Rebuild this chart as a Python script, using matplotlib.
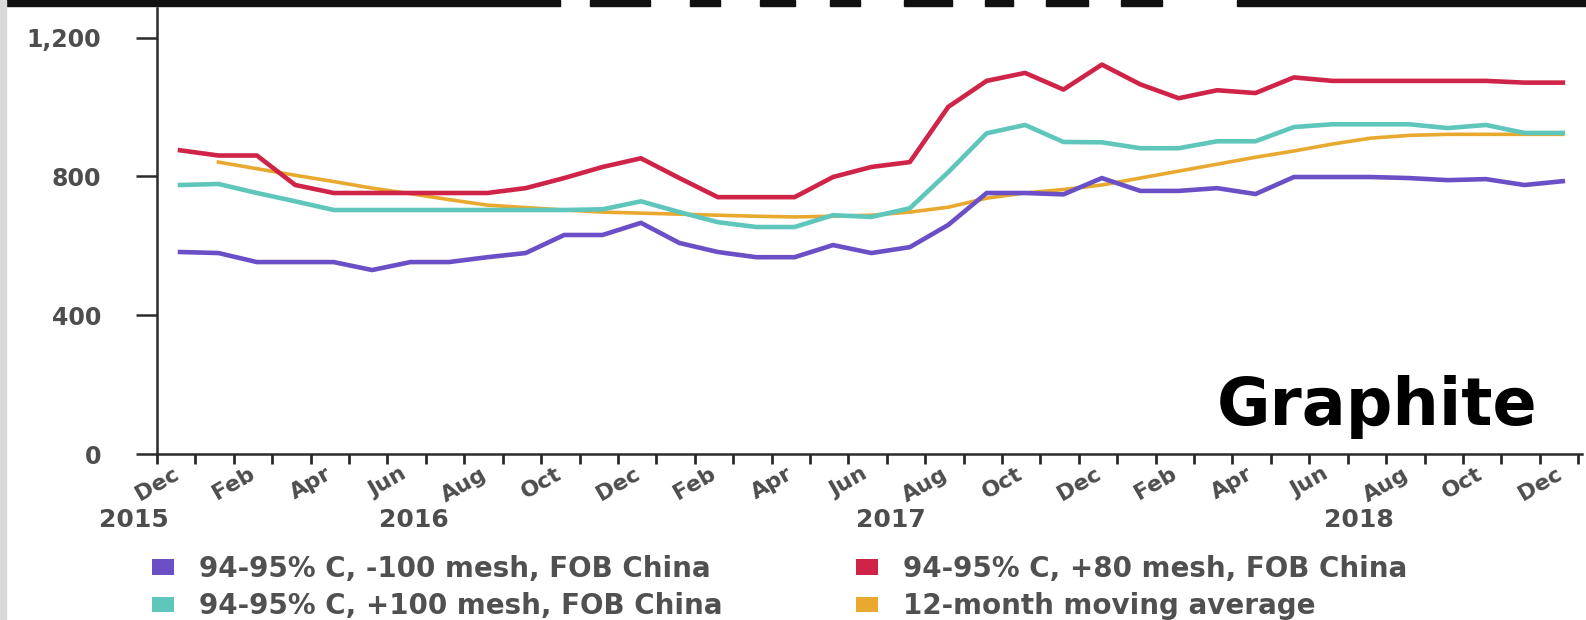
import numpy as np
import matplotlib
matplotlib.use("Agg")
import matplotlib.pyplot as plt
from matplotlib.patches import Patch, Rectangle
from matplotlib.transforms import blended_transform_factory

# ---------------- data (USD/t, monthly Dec 2015 .. Dec 2018) ----------------
tick_names = ["Dec", "Feb", "Apr", "Jun", "Aug", "Oct"] * 3 + ["Dec"]
year_labels = ["2015", "2016", "2017", "2018"]
year_centers = [-0.6, 6.7, 19.1, 31.3]          # layout: month units

minus100_mesh = [582, 579, 553, 553, 553, 530, 553, 553, 567, 579, 631, 631,
                 666, 608, 582, 567, 567, 602, 579, 596, 660, 752, 752, 748,
                 795, 758, 758, 766, 749, 798, 798, 798, 795, 789, 792, 775, 786]
plus80_mesh = [875, 860, 860, 775, 752, 752, 752, 752, 752, 766, 795, 827,
               852, 795, 740, 740, 740, 798, 827, 841, 1000, 1075, 1098, 1050,
               1122, 1065, 1025, 1048, 1040, 1085, 1075, 1075, 1075, 1075, 1075, 1070, 1070]
plus100_mesh = [775, 778, 752, 728, 703, 703, 703, 703, 703, 703, 703, 705,
                728, 697, 668, 654, 654, 688, 683, 708, 812, 924, 948, 899,
                898, 881, 881, 901, 901, 942, 950, 950, 950, 939, 948, 925, 925]
moving_avg = [np.nan, 841, 822, 803, 785, 766, 750, 733, 717, 710, 703, 697,
              694, 691, 688, 685, 683, 685, 688, 697, 711, 737, 752, 762,
              775, 795, 815, 835, 855, 873, 893, 910, 918, 921, 921, 921, 921]

series_labels = ["94-95% C, -100 mesh, FOB China",
                 "94-95% C, +100 mesh, FOB China",
                 "94-95% C, +80 mesh, FOB China",
                 "12-month moving average"]
c_purple, c_teal, c_red, c_yellow = "#6a4fc6", "#5fc6bc", "#cf2448", "#e9a92e"

# ---------------- figure ----------------
W, H = 1586, 620
fig = plt.figure(figsize=(W / 100, H / 100), dpi=100)
fig.patch.set_facecolor("white")
ax = fig.add_axes([157 / W, 1 - 454 / H, (1582 - 157) / W, (454 - 8) / H])

n = len(plus80_mesh)
x = np.arange(n) + 0.6
ax.plot(x, moving_avg, color=c_yellow, lw=2.6, zorder=2, solid_joinstyle="round")
ax.plot(x, minus100_mesh, color=c_purple, lw=3.3, zorder=3, solid_joinstyle="round")
ax.plot(x, plus100_mesh, color=c_teal, lw=3.3, zorder=4, solid_joinstyle="round")
ax.plot(x, plus80_mesh, color=c_red, lw=3.3, zorder=5, solid_joinstyle="round")

ax.set_xlim(0, 37.1)
ax.set_ylim(0, 1285)

for s in ["top", "right"]:
    ax.spines[s].set_visible(False)
for s in ["left", "bottom"]:
    ax.spines[s].set_color("#2b2b2b")
    ax.spines[s].set_linewidth(1.8)

txt_grey = "#4d4d4d"
ax.set_yticks([0, 400, 800, 1200])
ax.set_yticklabels(["0", "400", "800", "1,200"])
ax.tick_params(axis="y", direction="out", length=15, width=1.8, color="#2b2b2b",
               pad=25, labelsize=17, labelcolor=txt_grey)

ax.set_xticks(np.arange(0, 38))
ax.set_xticklabels([tick_names[i // 2] if i % 2 == 0 and i // 2 < len(tick_names) else ""
                    for i in range(38)])
ax.tick_params(axis="x", direction="out", length=7, width=2.0, color="#2b2b2b",
               pad=0, labelsize=16, labelcolor=txt_grey)
for lab in ax.get_xticklabels():
    lab.set_rotation(30)
    lab.set_ha("center")
    lab.set_fontweight("bold")
for lab in ax.get_yticklabels():
    lab.set_fontweight("bold")

trans = blended_transform_factory(ax.transData, fig.transFigure)
for yl, xc in zip(year_labels, year_centers):
    fig.text(xc, 1 - 520 / H, yl, transform=trans, ha="center", va="center",
             fontsize=18, fontweight="bold", color=txt_grey)

# Graphite label
fig.text(1537 / W, 1 - 425 / H, "Graphite", ha="right", va="baseline",
         fontsize=47, fontweight="bold", color="black", family="DejaVu Sans")

# legend
handles = [Patch(facecolor=c, edgecolor="none") for c in (c_purple, c_teal, c_red, c_yellow)]
leg = fig.legend(handles, series_labels, ncol=2, loc="upper left",
                 bbox_to_anchor=(152 / W, 1 - 555 / H), frameon=False,
                 fontsize=20, handlelength=0.8, handleheight=0.47,
                 handletextpad=0.9, columnspacing=4.8, labelspacing=0.33,
                 borderpad=0, borderaxespad=0)
for t in leg.get_texts():
    t.set_color("#505050")
    t.set_fontweight("bold")

# decorations: cropped title remnants at top, grey strip at left
for x0, x1 in [(0, 560), (590, 650), (690, 720), (760, 795), (830, 860),
               (904, 952), (985, 1013), (1046, 1088), (1121, 1162), (1237, 1586)]:
    fig.patches.append(Rectangle((x0 / W, 1 - 6 / H), (x1 - x0) / W, 6 / H,
                                 transform=fig.transFigure, color="#111111", zorder=10))
fig.patches.append(Rectangle((0, 0), 6 / W, 1, transform=fig.transFigure,
                             color="#d9d9d9", zorder=10))

fig.savefig("out.png", dpi=100, facecolor="white")
